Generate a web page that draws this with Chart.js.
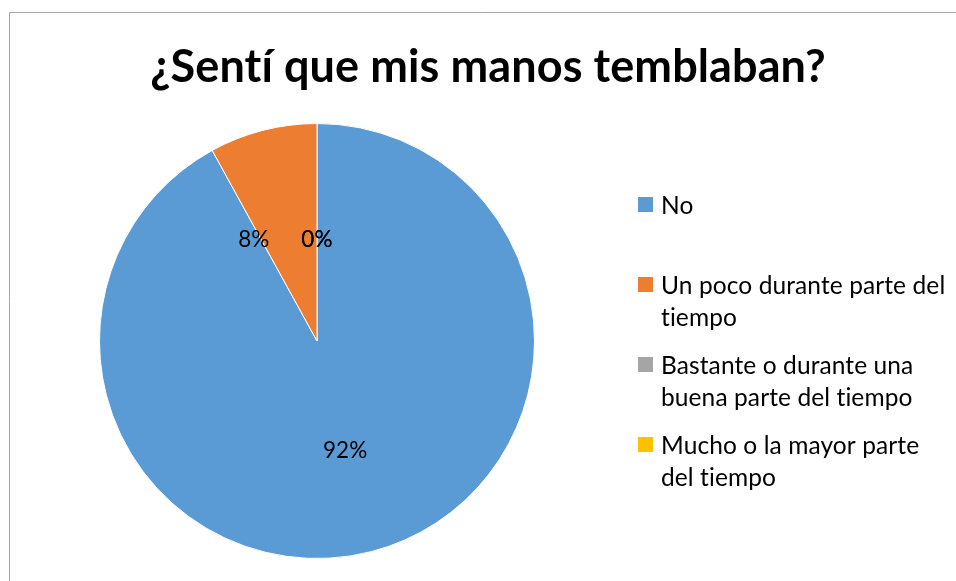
<!DOCTYPE html>
<html><head><meta charset="utf-8">
<script src="https://cdn.jsdelivr.net/npm/chart.js"></script>
<style>html,body{margin:0;padding:0;background:#fff;overflow:hidden}</style>
</head><body>
<canvas id="c" width="956" height="581"></canvas>
<script>
const titleText = '¿Sentí que mis manos temblaban?';
const categories = [
  ['No'],
  ['Un poco durante parte del', 'tiempo'],
  ['Bastante o durante una', 'buena parte del tiempo'],
  ['Mucho o la mayor parte', 'del tiempo']
];
const values = [92, 8, 0, 0];
const colors = ['#5B9BD5', '#ED7D31', '#A5A5A5', '#FFC000'];

const labelStyle = { radius: [0.52, 0.55, 0.465, 0.465], shiftDeg: [0, -17.5, 0, 0] };

function noLig(ctx) { if ('letterSpacing' in ctx) ctx.letterSpacing = '0.1px'; }

const decor = {
  id: 'decor',
  beforeDraw(chart) {
    const ctx = chart.ctx;
    ctx.save();
    ctx.fillStyle = '#fff';
    ctx.fillRect(0, 0, chart.width, chart.height);
    ctx.strokeStyle = '#A6A6A6';
    ctx.lineWidth = 1;
    ctx.beginPath();
    ctx.moveTo(9.5, chart.height);
    ctx.lineTo(9.5, 12.5);
    ctx.lineTo(chart.width, 12.5);
    ctx.stroke();
    ctx.fillStyle = '#000';
    ctx.font = 'bold 45px Lato';
    noLig(ctx);
    ctx.textAlign = 'center';
    ctx.textBaseline = 'alphabetic';
    ctx.fillText(titleText, 488, 82);
    ctx.restore();
  },
  afterDatasetsDraw(chart) {
    const ctx = chart.ctx;
    const data = chart.data.datasets[0].data;
    const total = data.reduce((a, b) => a + b, 0);
    const meta = chart.getDatasetMeta(0);
    ctx.save();
    noLig(ctx);
    ctx.fillStyle = '#000';
    ctx.font = '22.5px Lato';
    ctx.textAlign = 'center';
    ctx.textBaseline = 'middle';
    meta.data.forEach((arc, i) => {
      const p = arc.getProps(['x', 'y', 'startAngle', 'endAngle', 'outerRadius'], true);
      const mid = (p.startAngle + p.endAngle) / 2 + labelStyle.shiftDeg[i] * Math.PI / 180;
      const r = p.outerRadius * labelStyle.radius[i];
      const txt = Math.round(data[i] / total * 100) + '%';
      ctx.fillText(txt, p.x + Math.cos(mid) * r, p.y + Math.sin(mid) * r);
    });
    // legend
    ctx.textAlign = 'left';
    ctx.textBaseline = 'alphabetic';
    ctx.font = '24.5px Lato';
    chart.data.labels.forEach((lab, i) => {
      const base = 214 + i * 80;
      ctx.fillStyle = chart.data.datasets[0].backgroundColor[i];
      ctx.fillRect(638, base - 17, 15, 15);
      ctx.fillStyle = '#000';
      lab.forEach((line, j) => ctx.fillText(line, 661, base + j * 32));
    });
    ctx.restore();
  }
};

new Chart(document.getElementById('c'), {
  type: 'pie',
  data: {
    labels: categories,
    datasets: [{ data: values, backgroundColor: colors, borderColor: '#fff', borderWidth: 1 }]
  },
  options: {
    responsive: false,
    animation: false,
    layout: { padding: { left: 99, right: 421, top: 123, bottom: 22 } },
    plugins: { legend: { display: false }, tooltip: { enabled: false }, title: { display: false } }
  },
  plugins: [decor]
});
</script>
</body></html>
